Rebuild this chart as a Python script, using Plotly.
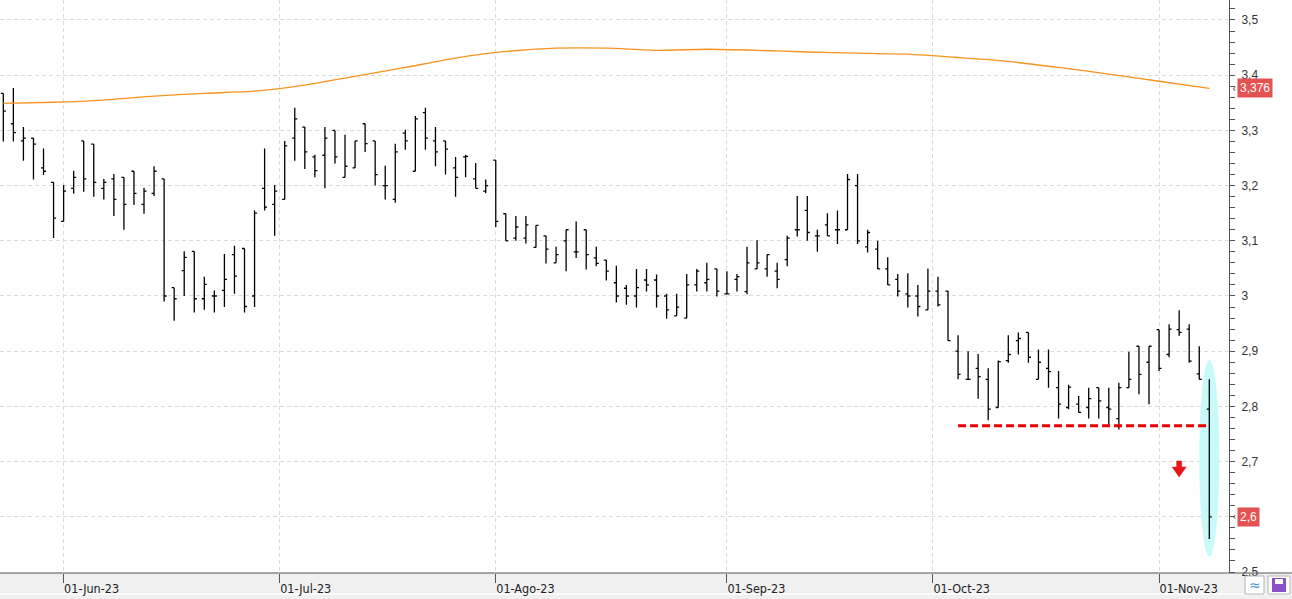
import pandas as pd
import plotly.graph_objects as go

# ---------------- data ----------------
dates = [d.strftime("%Y-%m-%d") for d in pd.bdate_range("2023-05-24", "2023-11-08")]

opens = [3.367, 3.312, 3.281, 3.286, 3.232, 3.206, 3.135, 3.195, 3.281, 3.275,
         3.195, 3.212, 3.215, 3.226, 3.166, 3.186, 3.212, 3.015, 3.046, 3.081,
         2.995, 3.000, 3.010, 3.075, 3.086, 3.000, 3.195, 3.166, 3.175, 3.286,
         3.306, 3.252, 3.255, 3.300, 3.215, 3.232, 3.312, 3.281, 3.200, 3.175,
         3.295, 3.226, 3.332, 3.281, 3.281, 3.232, 3.252, 3.212, 3.190, 3.246,
         3.149, 3.105, 3.105, 3.088, 3.109, 3.060, 3.100, 3.080, 3.120, 3.069,
         3.065, 3.024, 3.014, 3.000, 3.029, 3.029, 3.000, 2.964, 2.960, 3.020,
         3.024, 3.049, 3.004, 3.030, 3.008, 3.049, 3.049, 3.045, 3.066, 3.120,
         3.155, 3.109, 3.129, 3.120, 3.120, 3.200, 3.089, 3.085, 3.049, 3.030,
         3.004, 3.000, 2.975, 3.009, 3.009, 2.900, 2.849, 2.869, 2.849, 2.798,
         2.883, 2.919, 2.934, 2.849, 2.869, 2.834, 2.798, 2.804, 2.798, 2.834,
         2.798, 2.778, 2.834, 2.909, 2.880, 2.939, 2.894, 2.939, 2.940, 2.859,
         2.795]
highs = [3.367, 3.377, 3.306, 3.286, 3.267, 3.206, 3.201, 3.227, 3.281, 3.275,
         3.212, 3.221, 3.215, 3.226, 3.196, 3.235, 3.212, 3.015, 3.081, 3.081,
         3.035, 3.010, 3.076, 3.091, 3.086, 3.155, 3.267, 3.201, 3.281, 3.341,
         3.306, 3.256, 3.306, 3.300, 3.292, 3.281, 3.312, 3.281, 3.236, 3.276,
         3.301, 3.326, 3.341, 3.306, 3.281, 3.252, 3.256, 3.241, 3.211, 3.246,
         3.149, 3.145, 3.145, 3.128, 3.109, 3.089, 3.120, 3.135, 3.120, 3.089,
         3.065, 3.055, 3.020, 3.049, 3.049, 3.039, 3.004, 3.004, 3.040, 3.049,
         3.060, 3.049, 3.045, 3.040, 3.089, 3.101, 3.075, 3.060, 3.109, 3.181,
         3.181, 3.120, 3.150, 3.155, 3.221, 3.221, 3.120, 3.100, 3.070, 3.040,
         3.041, 3.020, 3.050, 3.035, 3.009, 2.929, 2.900, 2.895, 2.869, 2.883,
         2.929, 2.934, 2.934, 2.903, 2.903, 2.864, 2.839, 2.819, 2.834, 2.834,
         2.834, 2.843, 2.899, 2.909, 2.909, 2.939, 2.949, 2.974, 2.949, 2.909,
         2.849]
lows = [3.280, 3.280, 3.245, 3.211, 3.219, 3.105, 3.135, 3.185, 3.189, 3.180,
        3.175, 3.145, 3.120, 3.165, 3.149, 3.181, 2.990, 2.955, 3.000, 2.970,
        2.975, 2.970, 2.980, 3.004, 2.970, 2.980, 3.155, 3.109, 3.175, 3.245,
        3.230, 3.215, 3.195, 3.240, 3.215, 3.232, 3.261, 3.200, 3.175, 3.169,
        3.265, 3.226, 3.265, 3.235, 3.220, 3.180, 3.215, 3.195, 3.186, 3.125,
        3.100, 3.100, 3.095, 3.088, 3.059, 3.060, 3.045, 3.069, 3.048, 3.054,
        3.028, 2.988, 2.984, 2.979, 3.008, 2.979, 2.959, 2.964, 2.960, 3.008,
        3.008, 2.999, 3.004, 3.008, 3.003, 3.049, 3.035, 3.014, 3.054, 3.108,
        3.100, 3.080, 3.109, 3.094, 3.120, 3.094, 3.079, 3.049, 3.020, 2.999,
        2.979, 2.963, 2.975, 2.981, 2.919, 2.849, 2.849, 2.814, 2.775, 2.798,
        2.879, 2.894, 2.879, 2.849, 2.834, 2.778, 2.795, 2.789, 2.778, 2.778,
        2.764, 2.758, 2.834, 2.822, 2.804, 2.864, 2.889, 2.928, 2.879, 2.849,
        2.560]
closes = [3.335, 3.296, 3.286, 3.275, 3.226, 3.141, 3.190, 3.215, 3.212, 3.206,
          3.206, 3.175, 3.166, 3.186, 3.190, 3.226, 3.000, 2.995, 3.070, 2.995,
          3.021, 3.000, 3.030, 3.036, 2.981, 3.150, 3.161, 3.190, 3.272, 3.321,
          3.261, 3.227, 3.286, 3.252, 3.235, 3.281, 3.276, 3.220, 3.200, 3.261,
          3.281, 3.321, 3.286, 3.261, 3.266, 3.215, 3.253, 3.195, 3.200, 3.135,
          3.100, 3.125, 3.129, 3.128, 3.085, 3.075, 3.120, 3.080, 3.075, 3.059,
          3.045, 3.000, 3.000, 3.015, 3.020, 3.000, 2.975, 2.980, 3.020, 3.045,
          3.030, 3.009, 3.004, 3.035, 3.060, 3.060, 3.075, 3.030, 3.105, 3.120,
          3.115, 3.109, 3.109, 3.120, 3.211, 3.100, 3.115, 3.049, 3.020, 3.009,
          3.000, 2.981, 3.009, 2.984, 2.919, 2.858, 2.849, 2.854, 2.795, 2.881,
          2.894, 2.923, 2.889, 2.880, 2.863, 2.804, 2.835, 2.789, 2.814, 2.810,
          2.795, 2.834, 2.849, 2.858, 2.909, 2.869, 2.940, 2.934, 2.882, 2.849,
          2.600]

# moving average (read every 5th session)
ma_dates = dates[::5]
ma_values = [3.349, 3.351, 3.355, 3.362, 3.367, 3.371, 3.382, 3.398, 3.414, 3.431,
             3.443, 3.449, 3.449, 3.445, 3.447, 3.445, 3.442, 3.440, 3.438, 3.432,
             3.425, 3.414, 3.402, 3.389, 3.376]

month_starts = ["2023-06-01", "2023-07-01", "2023-08-01", "2023-09-01", "2023-10-01", "2023-11-01"]
month_labels = ["01-Jun-23", "01-Jul-23", "01-Ago-23", "01-Sep-23", "01-Oct-23", "01-Nov-23"]

y_tickvals = [2.5, 2.6, 2.7, 2.8, 2.9, 3.0, 3.1, 3.2, 3.3, 3.4, 3.5]
# 2,6 is shown in the red last-price box instead of as a plain tick label
y_ticktext = ["2,5", "", "2,7", "2,8", "2,9", "3", "3,1", "3,2", "3,3", "3,4", "3,5"]

support_level = 2.765
support_from = "2023-10-04"
support_to = "2023-11-08"
alert_date = "2023-11-03"
alert_price = 2.701
highlight_date = "2023-11-08"
highlight_low = 2.528
highlight_high = 2.884

# ---------------- helpers ----------------
def fmt(v):
    s = ("%.3f" % v).rstrip("0").rstrip(".")
    return s.replace(".", ",")

tick_pos = []
for ms in month_starts:
    idx = next(i for i, d in enumerate(dates) if d >= ms)
    tick_pos.append(idx if dates[idx] == ms else idx - 0.5)

W, H = 1292, 599
ML, MR, MT, MB = 0, 63, 0, 26
PW, PH = W - ML - MR, H - MT - MB

def px_x(px):
    return (px - ML) / PW

def px_y(py):
    return (H - MB - py) / PH

# ---------------- figure ----------------
fig = go.Figure()
fig.add_trace(go.Ohlc(
    x=dates, open=opens, high=highs, low=lows, close=closes,
    increasing=dict(line=dict(color="#000000", width=1.3)),
    decreasing=dict(line=dict(color="#000000", width=1.3)),
    tickwidth=0.25, showlegend=False, hoverinfo="skip",
))
fig.add_trace(go.Scatter(
    x=ma_dates, y=ma_values, mode="lines",
    line=dict(color="#f7931e", width=1.3, shape="spline", smoothing=0.6),
    showlegend=False, hoverinfo="skip",
))

grid = dict(showgrid=True, gridcolor="#dcdcdc", gridwidth=1, griddash="4px,3px", zeroline=False)

fig.update_layout(
    width=W, height=H,
    margin=dict(l=ML, r=MR, t=MT, b=MB),
    paper_bgcolor="#ffffff", plot_bgcolor="#ffffff",
    showlegend=False,
    xaxis=dict(
        type="category", range=[-0.33, len(dates) + 0.96],
        tickmode="array", tickvals=tick_pos, ticktext=month_labels,
        ticks="outside", ticklen=9, tickcolor="#555555", tickwidth=1,
        ticklabelposition="outside right", ticklabelstandoff=4,
        tickfont=dict(family="Liberation Sans Narrow, DejaVu Sans Condensed, Arial Narrow, sans-serif",
                      size=12.5, color="#222222"),
        rangeslider=dict(visible=False), showline=False, fixedrange=True,
        **grid,
    ),
    yaxis=dict(
        side="right", range=[2.4982, 3.5362],
        tickmode="array", tickvals=y_tickvals, ticktext=y_ticktext,
        ticks="outside", ticklen=5, tickcolor="#555555", tickwidth=1,
        ticklabelstandoff=4,
        minor=dict(tickmode="linear", tick0=2.5, dtick=0.02, ticks="outside",
                   ticklen=5, tickcolor="#555555", showgrid=False),
        showline=True, linecolor="#555555", linewidth=1,
        tickfont=dict(family="Liberation Sans, Arial, sans-serif", size=12, color="#333333"),
        fixedrange=True,
        **grid,
    ),
)

shapes = []
# bottom band
shapes.append(dict(type="rect", xref="paper", yref="paper", x0=px_x(-5), x1=px_x(W + 5),
                   y0=px_y(H + 5), y1=px_y(573), fillcolor="#f0f0f0", line=dict(width=0), layer="below"))
shapes.append(dict(type="line", xref="paper", yref="paper", x0=px_x(0), x1=px_x(W),
                   y0=px_y(594), y1=px_y(594), line=dict(color="#ffffff", width=1.5), layer="below"))
shapes.append(dict(type="line", xref="paper", yref="paper", x0=px_x(0), x1=px_x(W),
                   y0=px_y(573), y1=px_y(573), line=dict(color="#555555", width=1), layer="above"))
# icons
shapes.append(dict(type="rect", xref="paper", yref="paper", x0=px_x(1245), x1=px_x(1264),
                   y0=px_y(594), y1=px_y(576), fillcolor="#ffffff", line=dict(color="#b5b5b5", width=1)))
shapes.append(dict(type="rect", xref="paper", yref="paper", x0=px_x(1268), x1=px_x(1290),
                   y0=px_y(594), y1=px_y(576), fillcolor="#ffffff", line=dict(color="#b5b5b5", width=1)))
shapes.append(dict(type="rect", xref="paper", yref="paper", x0=px_x(1272), x1=px_x(1286),
                   y0=px_y(592), y1=px_y(578), fillcolor="#8a52c8", line=dict(width=0)))
shapes.append(dict(type="rect", xref="paper", yref="paper", x0=px_x(1275), x1=px_x(1283),
                   y0=px_y(584), y1=px_y(579), fillcolor="#ffffff", line=dict(width=0)))
# highlight ellipse around last bar
shapes.append(dict(type="circle", xref="x", yref="y", xsizemode="pixel", xanchor=highlight_date,
                   x0=-10, x1=10, y0=highlight_low, y1=highlight_high,
                   fillcolor="#c8fafa", line=dict(width=0), layer="between"))
# support line
shapes.append(dict(type="line", xref="x", yref="y", x0=support_from, x1=support_to,
                   y0=support_level, y1=support_level,
                   line=dict(color="#e60000", width=3, dash="8px,4px"), layer="above"))
# red down arrow
shapes.append(dict(type="path", xref="x", yref="y", xsizemode="pixel", ysizemode="pixel",
                   xanchor=alert_date, yanchor=alert_price,
                   path="M -2.5 0 L 2.5 0 L 2.5 -6 L 7 -6 L 0 -16 L -7 -6 L -2.5 -6 Z",
                   fillcolor="#e8141b", line=dict(color="#e8141b", width=0.5), layer="above"))
fig.update_layout(shapes=shapes)

annotations = []
for val in (ma_values[-1], closes[-1]):
    annotations.append(dict(xref="paper", yref="y", x=px_x(1237), y=val, xanchor="left", yanchor="middle",
                            text=fmt(val), showarrow=False, bgcolor="#e45252", borderpad=2,
                            font=dict(family="Liberation Sans, Arial, sans-serif", size=12, color="#ffffff")))
    annotations.append(dict(xref="paper", yref="y", x=px_x(1229.5), y=val, xanchor="left", yanchor="middle",
                            text="‹", showarrow=False,
                            font=dict(family="DejaVu Sans, sans-serif", size=11, color="#555555")))
annotations.append(dict(xref="paper", yref="paper", x=px_x(1254.5), y=px_y(585), xanchor="center",
                        yanchor="middle", text="≈", showarrow=False,
                        font=dict(family="DejaVu Sans, sans-serif", size=14, color="#4a8fd8")))
fig.update_layout(annotations=annotations)

fig.write_html("out.html")
